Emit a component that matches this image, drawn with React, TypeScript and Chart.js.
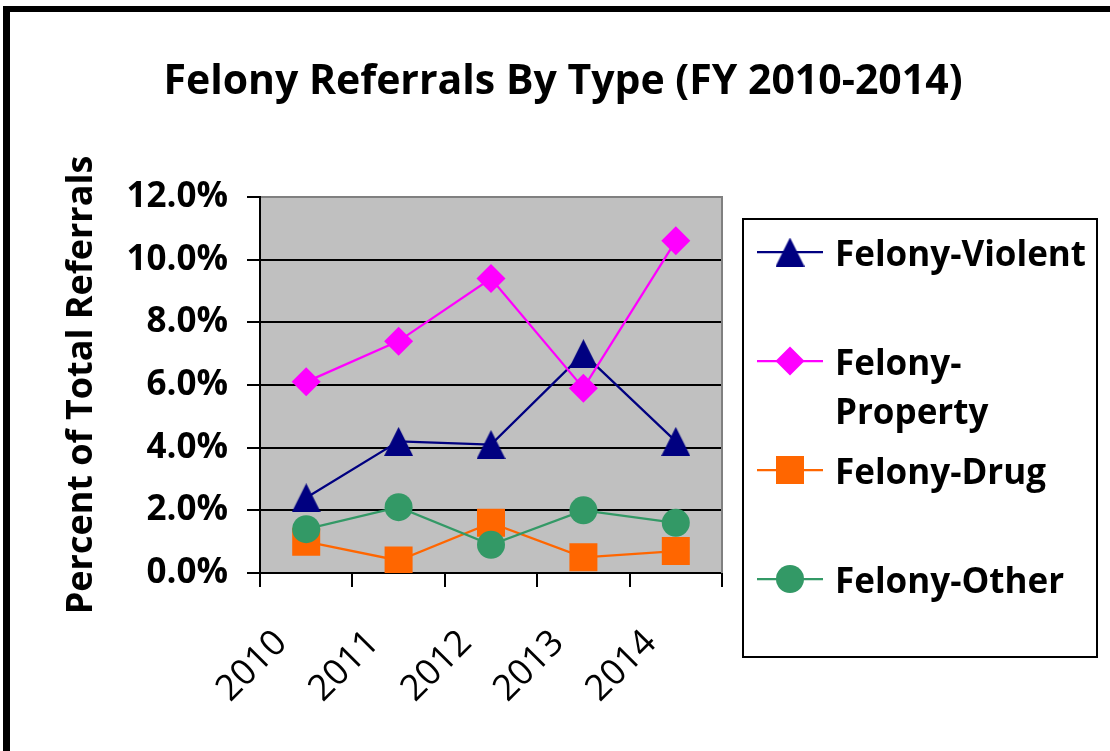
import React, { useEffect, useRef } from 'react';
import { Chart, registerables } from 'chart.js';

Chart.register(...registerables);

const TITLE = 'Felony Referrals By Type (FY 2010-2014)';
const Y_TITLE = 'Percent of Total Referrals';
const YEARS = ['2010', '2011', '2012', '2013', '2014'];
const VIOLENT = [2.4, 4.2, 4.1, 7.0, 4.2];
const PROPERTY = [6.1, 7.4, 9.4, 5.9, 10.6];
const DRUG = [1.0, 0.4, 1.6, 0.5, 0.7];
const OTHER = [1.4, 2.1, 0.9, 2.0, 1.6];
const SERIES_NAMES = ['Felony-Violent', 'Felony-Property', 'Felony-Drug', 'Felony-Other'];
const SERIES_COLORS = ['#000080', '#FF00FF', '#FF6600', '#339966'];
const Y_MIN = 0;
const Y_MAX = 12;
const Y_STEP = 2;

const FONT = "'Open Sans', 'DejaVu Sans', sans-serif";

function makeTriangle(color: string): HTMLCanvasElement {
  const c = document.createElement('canvas');
  c.width = 29;
  c.height = 29;
  const g = c.getContext('2d')!;
  g.fillStyle = color;
  g.beginPath();
  g.moveTo(14.5, 0);
  g.lineTo(29, 29);
  g.lineTo(0, 29);
  g.closePath();
  g.fill();
  return c;
}

function drawMarker(ctx: CanvasRenderingContext2D, kind: string, x: number, y: number, color: string, tri: HTMLCanvasElement) {
  ctx.fillStyle = color;
  ctx.beginPath();
  if (kind === 'triangle') {
    ctx.drawImage(tri, x - 14.5, y - 14.5);
    return;
  } else if (kind === 'diamond') {
    ctx.moveTo(x, y - 14.5);
    ctx.lineTo(x + 14.5, y);
    ctx.lineTo(x, y + 14.5);
    ctx.lineTo(x - 14.5, y);
    ctx.closePath();
  } else if (kind === 'square') {
    ctx.rect(x - 14, y - 14, 28, 28);
  } else {
    ctx.arc(x, y, 14, 0, Math.PI * 2);
  }
  ctx.fill();
}

export default function App() {
  const ref = useRef<HTMLCanvasElement | null>(null);

  useEffect(() => {
    if (!ref.current) return;
    const tri = makeTriangle(SERIES_COLORS[0]);
    const kinds = ['triangle', 'diamond', 'square', 'circle'];

    const decorPlugin = {
      id: 'decor',
      beforeDraw(chart: any) {
        const { ctx, chartArea, width, height } = chart;
        ctx.save();
        ctx.fillStyle = '#ffffff';
        ctx.fillRect(0, 0, width, height);
        ctx.fillStyle = '#C0C0C0';
        ctx.fillRect(chartArea.left, chartArea.top, chartArea.right - chartArea.left, chartArea.bottom - chartArea.top);
        ctx.restore();
      },
      beforeDatasetsDraw(chart: any) {
        const { ctx, chartArea } = chart;
        ctx.save();
        ctx.strokeStyle = '#808080';
        ctx.lineWidth = 2;
        ctx.beginPath();
        ctx.moveTo(chartArea.left + 1, chartArea.top);
        ctx.lineTo(chartArea.right, chartArea.top);
        ctx.lineTo(chartArea.right, chartArea.bottom);
        ctx.stroke();
        ctx.restore();
      },
      afterDraw(chart: any) {
        const { ctx, width, height } = chart;
        ctx.save();
        // outer frame
        ctx.fillStyle = '#000';
        ctx.fillRect(3, 6, 7, height - 6);
        ctx.fillRect(3, 6, width - 3, 6);
        // title
        ctx.font = `bold 41px ${FONT}`;
        ctx.textAlign = 'center';
        ctx.textBaseline = 'alphabetic';
        ctx.fillText(TITLE, 563, 94);
        // legend
        const bx = 743, by = 219, bw = 354, bh = 438;
        ctx.strokeStyle = '#000';
        ctx.lineWidth = 2;
        ctx.strokeRect(bx, by, bw, bh);
        ctx.font = `bold 35px ${FONT}`;
        ctx.textAlign = 'left';
        SERIES_NAMES.forEach((name, i) => {
          const cy = 252 + i * 109;
          const color = SERIES_COLORS[i];
          ctx.strokeStyle = color;
          ctx.lineWidth = 2.25;
          ctx.beginPath();
          ctx.moveTo(757, cy);
          ctx.lineTo(823, cy);
          ctx.stroke();
          drawMarker(ctx, kinds[i], 790, cy, color, tri);
          ctx.fillStyle = '#000';
          let lines = [name];
          if (ctx.measureText(name).width > bx + bw - 835 - 4) {
            const k = name.indexOf('-');
            lines = [name.slice(0, k + 1), name.slice(k + 1)];
          }
          lines.forEach((ln, j) => ctx.fillText(ln, 835, cy + 14 + j * 49));
        });
        ctx.restore();
      },
    };

    const chart = new Chart(ref.current, {
      type: 'line',
      data: {
        labels: YEARS,
        datasets: [
          {
            label: SERIES_NAMES[0], data: VIOLENT, borderColor: SERIES_COLORS[0], backgroundColor: SERIES_COLORS[0],
            pointStyle: tri as any, pointRadius: 14, borderWidth: 2.25, order: 4,
          },
          {
            label: SERIES_NAMES[1], data: PROPERTY, borderColor: SERIES_COLORS[1], backgroundColor: SERIES_COLORS[1],
            pointStyle: 'rectRot', pointRadius: 14.5, pointBorderWidth: 0, borderWidth: 2.25, order: 3,
          },
          {
            label: SERIES_NAMES[2], data: DRUG, borderColor: SERIES_COLORS[2], backgroundColor: SERIES_COLORS[2],
            pointStyle: 'rect', pointRadius: 19.8, pointBorderWidth: 0, borderWidth: 2.25, order: 2,
          },
          {
            label: SERIES_NAMES[3], data: OTHER, borderColor: SERIES_COLORS[3], backgroundColor: SERIES_COLORS[3],
            pointStyle: 'circle', pointRadius: 14, pointBorderWidth: 0, borderWidth: 2.25, order: 1,
          },
        ],
      },
      options: {
        responsive: false,
        animation: false,
        events: [],
        layout: { padding: { left: 20, top: 197, right: 388, bottom: 0 } },
        plugins: { legend: { display: false }, title: { display: false }, tooltip: { enabled: false } },
        scales: {
          x: {
            type: 'category',
            offset: true,
            grid: { offset: true, drawOnChartArea: false, color: '#000', lineWidth: 2, tickLength: 14 },
            border: { display: true, color: '#000', width: 2 },
            ticks: {
              color: '#000', font: { family: FONT, size: 36 }, minRotation: 45, maxRotation: 45,
              labelOffset: -25, padding: 35, autoSkip: false,
            },
            afterFit: (s: any) => { s.height = 178; },
          },
          y: {
            min: Y_MIN,
            max: Y_MAX,
            grid: { color: '#000', lineWidth: 2, tickLength: 13 },
            border: { display: true, color: '#000', width: 2 },
            ticks: {
              stepSize: Y_STEP, color: '#000', padding: 19,
              font: { family: FONT, size: 35, weight: 'bold' },
              callback: (v: any) => Number(v).toFixed(1) + '%',
            },
            title: {
              display: true, text: Y_TITLE, color: '#000',
              font: { family: FONT, size: 36, weight: 'bold' }, padding: { top: 40, bottom: 0 },
            },
            afterFit: (s: any) => { s.width = 240; },
          },
        },
      },
      plugins: [decorPlugin],
    });
    return () => chart.destroy();
  }, []);

  return (
    <div style={{ position: 'absolute', left: 0, top: 0, width: 1110, height: 751, background: '#fff' }}>
      <canvas ref={ref} width={1110} height={751} style={{ display: 'block', width: 1110, height: 751 }} />
    </div>
  );
}
